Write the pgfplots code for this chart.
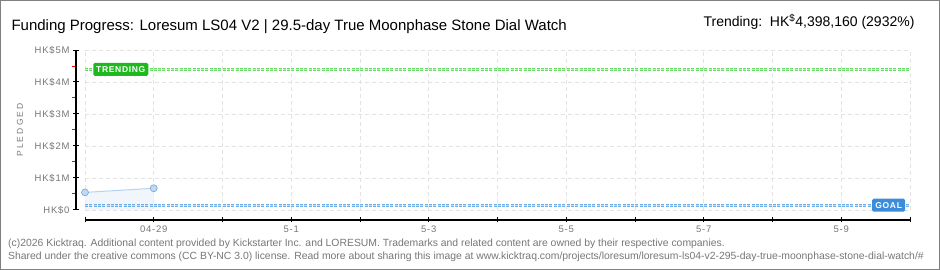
\documentclass[border=0pt]{standalone}
\usepackage{pgfplots}
\pgfplotsset{compat=1.18}
\usepackage{fontspec}
\setmainfont{Liberation Sans}
\definecolor{tgreen}{HTML}{1DB91D}
\definecolor{tline}{HTML}{6CDB6C}
\definecolor{gblue}{HTML}{3C8CDC}
\definecolor{gline}{HTML}{70AEE8}
\definecolor{dline}{HTML}{B5D3F2}
\definecolor{dfill}{HTML}{EAF3FC}
\definecolor{dmark}{HTML}{BFD9F5}
\definecolor{txtgray}{HTML}{777777}
\definecolor{gridgray}{HTML}{E3E3E3}
\begin{document}
\begin{tikzpicture}[x=1pt,y=1pt]
\clip (0,0) rectangle (940,270);
\fill[white] (0,0) rectangle (940,270);
% main plot area
\begin{axis}[
 at={(85pt,60pt)}, anchor=south west,
 scale only axis, width=825pt, height=160pt,
 xmin=0, xmax=12, ymin=0, ymax=5,
 axis line style={draw=none},
 xtick={0,...,12}, ytick={0,...,5},
 xticklabels={}, yticklabels={},
 tick style={draw=none},
 grid=major,
 major grid style={gridgray, line width=0.8pt, dash pattern=on 4pt off 3pt},
 clip=false,
]
\addplot[draw=none, fill=dfill, fill opacity=0.7] coordinates {(0,0.55) (1,0.68)} \closedcycle;
\addplot[draw=dline, line width=1pt, mark=*, mark size=3.5pt, mark options={fill=dmark, draw=gline!80!gray, line width=0.6pt}] coordinates {(0,0.55) (1,0.68)};
% trending line
\addplot[draw=tline, line width=3pt, dash pattern=on 3pt off 1.3pt] coordinates {(0,4.398) (12,4.398)};
\addplot[draw=tline!45, line width=1pt, dash pattern=on 3pt off 1.3pt] coordinates {(0,4.398) (12,4.398)};
% goal line
\addplot[draw=gline, line width=3pt, dash pattern=on 3pt off 1.3pt] coordinates {(0,0.15) (12,0.15)};
\addplot[draw=gline!45, line width=1pt, dash pattern=on 3pt off 1.3pt] coordinates {(0,0.15) (12,0.15)};
\node[fill=tgreen, text=white, rounded corners=1.5pt, font=\bfseries\fontsize{8.5}{9}\selectfont\addfontfeature{LetterSpace=8}, minimum height=13pt, minimum width=55pt, inner sep=0pt] at (axis cs:0.52,4.398) {TRENDING};
\node[fill=gblue, text=white, rounded corners=1.5pt, font=\bfseries\fontsize{8.5}{9}\selectfont\addfontfeature{LetterSpace=8}, minimum height=13pt, minimum width=33pt, inner sep=0pt] at (axis cs:11.69,0.15) {GOAL};
\end{axis}
% y axis
\begin{axis}[
 at={(76pt,60pt)}, anchor=south west,
 scale only axis, width=10pt, height=160pt,
 xmin=0, xmax=1, ymin=0, ymax=5,
 axis x line=none, axis y line*=left,
 axis line style={-, black, line width=1pt},
 ytick={0,...,5},
 yticklabels={HK\$0,HK\$1M,HK\$2M,HK\$3M,HK\$4M,HK\$5M},
 tick align=center, major tick length=6pt,
 tick style={black, line width=1pt},
 extra y ticks={0.5,1.5,2.5,3.5,4.5},
 extra y tick labels={},
 extra y tick style={tick align=outside, major tick length=3.5pt, tick style={red, line width=1pt}},
 tick label style={font=\fontsize{9.5}{10}\selectfont\addfontfeature{LetterSpace=8}, text=txtgray},
 clip=false,
]
\end{axis}
\draw[black, line width=1.3pt] (76,60) -- (76,220);
% x axis
\begin{axis}[
 at={(85pt,50pt)}, anchor=south west,
 scale only axis, width=825pt, height=10pt,
 xmin=0, xmax=12, ymin=0, ymax=1,
 axis y line=none, axis x line*=bottom,
 axis line style={-, black, line width=1pt},
 xtick={0,...,12},
 xticklabels={,04-29,,5-1,,5-3,,5-5,,5-7,,5-9,},
 tick align=center, major tick length=5pt,
 tick style={black, line width=1pt},
 tick label style={font=\fontsize{9.5}{10}\selectfont\addfontfeature{LetterSpace=8}, text=txtgray},
 clip=false,
]
\end{axis}
\draw[black, line width=1.3pt] (85,50) -- (910,50);
\node[anchor=base west, font=\fontsize{15}{15}\selectfont] at (8,239) {Funding Progress: Loresum LS04 V2 | 29.5-day True Moonphase Stone Dial Watch};
\node[anchor=base east, font=\fontsize{14}{14}\selectfont] at (918,243) {Trending:\ \ HK\textsuperscript{\$}4,398,160 (2932\%)};
\node[rotate=90, font=\fontsize{8.5}{9}\selectfont\addfontfeature{LetterSpace=25}, text=txtgray] at (20,140) {PLEDGED};
\node[anchor=base west, inner sep=0pt, font=\fontsize{10.4}{11}\selectfont, text=txtgray] at (8,23) {(c)2026 Kicktraq. Additional content provided by Kickstarter Inc. and LORESUM. Trademarks and related content are owned by their respective companies.};
\node[anchor=base west, inner sep=0pt, font=\fontsize{10.4}{11}\selectfont, text=txtgray] at (8,10) {Shared under the creative commons (CC BY-NC 3.0) license. Read more about sharing this image at www.kicktraq.com/projects/loresum/loresum-ls04-v2-295-day-true-moonphase-stone-dial-watch/\#};
\draw[gray, line width=2pt] (0,0) rectangle (940,270);
\end{tikzpicture}
\end{document}
